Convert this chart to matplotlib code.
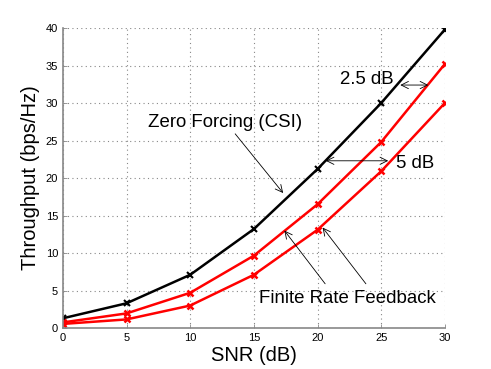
import matplotlib
matplotlib.use("Agg")
import matplotlib.pyplot as plt

plt.rcParams['font.family'] = ['Liberation Sans', 'DejaVu Sans']

snr = [0, 5, 10, 15, 20, 25, 30]
zf_csi = [1.3, 3.3, 7.1, 13.2, 21.2, 30.0, 39.8]
frf_hi = [0.75, 1.95, 4.7, 9.65, 16.5, 24.8, 35.2]
frf_lo = [0.55, 1.15, 3.0, 7.1, 13.1, 20.9, 30.0]

fig = plt.figure(figsize=(4.91, 3.69), dpi=100)
ax = fig.add_axes([0.128, 0.111, 0.778, 0.813])

ax.plot(snr, zf_csi, color='black', lw=1.8, marker='x', ms=4, mew=1.5)
ax.plot(snr, frf_hi, color='red', lw=1.8, marker='x', ms=5, mew=1.8)
ax.plot(snr, frf_lo, color='red', lw=1.8, marker='x', ms=5, mew=1.8)

ax.set_xlim(0, 30)
ax.set_ylim(0, 40)
ax.set_xticks(range(0, 31, 5))
ax.set_yticks(range(0, 41, 5))
ax.grid(True, linestyle=(0, (1, 3)), color='#888888', lw=0.8)
ax.tick_params(direction='in', length=3, width=0.6, colors='#888888',
               labelcolor='black', labelsize=8)
for s in ['top', 'right']:
    ax.spines[s].set_visible(False)
for s in ['left', 'bottom']:
    ax.spines[s].set_color('#888888')
    ax.spines[s].set_linewidth(1.2)

ax.set_xlabel('SNR (dB)', fontsize=14.5, labelpad=2)
ax.set_ylabel('Throughput (bps/Hz)', fontsize=14.5, labelpad=4)

thin = dict(arrowstyle='->', color='black', lw=0.6, mutation_scale=13, shrinkA=0, shrinkB=0)
ax.annotate('Zero Forcing (CSI)', xy=(17.3, 18.0), xytext=(6.7, 27.4),
            fontsize=13.4, va='center', ha='left', arrowprops=dict(thin, relpos=(0.55, 0.0)))
ax.annotate('', xy=(17.4, 13.0), xytext=(20.6, 5.9), arrowprops=thin)
ax.annotate('', xy=(20.4, 13.4), xytext=(23.8, 5.9), arrowprops=thin)
ax.text(15.4, 3.9, 'Finite Rate Feedback', fontsize=13.4, va='center', ha='left')

dbl = dict(thin, arrowstyle='<->')
ax.annotate('', xy=(28.7, 32.4), xytext=(26.5, 32.4), arrowprops=dbl)
ax.text(21.8, 33.1, '2.5 dB', fontsize=13.4, va='center', ha='left')
ax.annotate('', xy=(25.55, 22.3), xytext=(20.65, 22.3), arrowprops=dbl)
ax.text(26.2, 21.95, '5 dB', fontsize=13.4, va='center', ha='left')

fig.savefig('out.png', dpi=100)
